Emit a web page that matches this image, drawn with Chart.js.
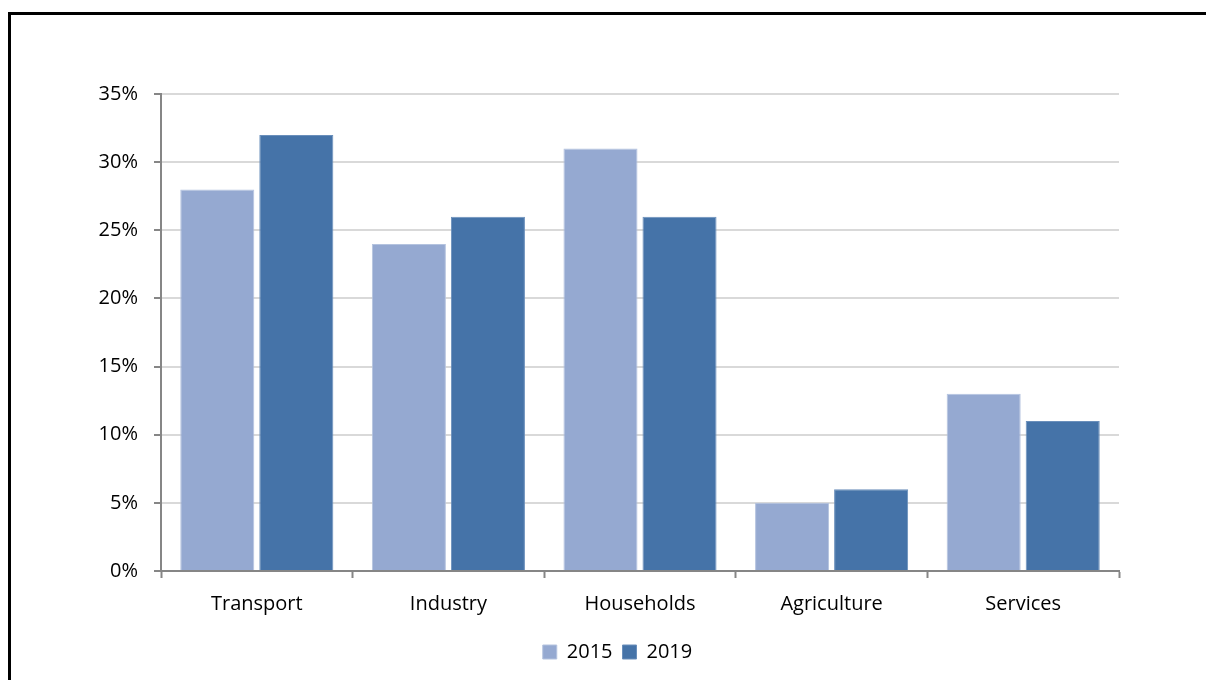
<!DOCTYPE html>
<html>
<head>
<meta charset="utf-8">
<script src="https://cdn.jsdelivr.net/npm/chart.js@4"></script>
<style>
  html, body { margin: 0; padding: 0; background: #ffffff; }
  #wrap { position: relative; width: 1206px; height: 680px; overflow: hidden; background: #ffffff; }
  #frame { position: absolute; left: 8px; top: 12px; width: 1300px; height: 800px; border-top: 3px solid #000; border-left: 3px solid #000; box-sizing: border-box; }
  #c { position: absolute; left: 0; top: 0; }
</style>
</head>
<body>
<div id="wrap">
  <div id="frame"></div>
  <canvas id="c" width="1206" height="680"></canvas>
</div>
<script>
const categories = ["Transport", "Industry", "Households", "Agriculture", "Services"];
const seriesNames = ["2015", "2019"];
const values2015 = [28, 24, 31, 5, 13];
const values2019 = [32, 26, 26, 6, 11];
const yTicks = [0, 5, 10, 15, 20, 25, 30, 35];

const FONT = "'Open Sans', 'DejaVu Sans', sans-serif";
const AXIS = "#868686";

const shiftLegend = {
  id: 'shiftLegend',
  afterLayout(chart) {
    const lg = chart.legend;
    if (lg) { lg.left += 58; lg.right += 58; }
  }
};

new Chart(document.getElementById('c'), {
  type: 'bar',
  data: {
    labels: categories,
    datasets: [
      { label: seriesNames[0], data: values2015, backgroundColor: '#95A9D1', borderColor: '#B4C3DF', borderWidth: 1,
        categoryPercentage: 0.825, barPercentage: 0.937 },
      { label: seriesNames[1], data: values2019, backgroundColor: '#4573A8', borderColor: '#6A8FBB', borderWidth: 1,
        categoryPercentage: 0.825, barPercentage: 0.937 }
    ]
  },
  plugins: [shiftLegend],
  options: {
    responsive: false,
    animation: false,
    layout: { padding: { left: 0, right: 87, top: 94, bottom: 8 } },
    plugins: {
      tooltip: { enabled: false },
      legend: {
        position: 'bottom',
        labels: { font: { family: FONT, size: 20 }, color: '#000', boxWidth: 14, boxHeight: 14, padding: 10 }
      }
    },
    scales: {
      x: {
        grid: { display: true, drawOnChartArea: false, offset: true, tickLength: 7, tickColor: AXIS, tickWidth: 2 },
        border: { display: true, color: AXIS, width: 2 },
        ticks: { font: { family: FONT, size: 20 }, color: '#000', padding: 14 },
        afterFit: (s) => { s.height = 61; }
      },
      y: {
        min: 0, max: 35,
        afterBuildTicks: (s) => { s.ticks = yTicks.map(v => ({ value: v })); },
        grid: { color: '#D9D9D9', lineWidth: 2, tickLength: 7, tickColor: AXIS, tickWidth: 2 },
        border: { display: true, color: AXIS, width: 2 },
        ticks: { font: { family: FONT, size: 20 }, color: '#000', padding: 16, callback: (v) => v + '%' },
        afterFit: (s) => { s.width = 161; }
      }
    }
  }
});
</script>
</body>
</html>
